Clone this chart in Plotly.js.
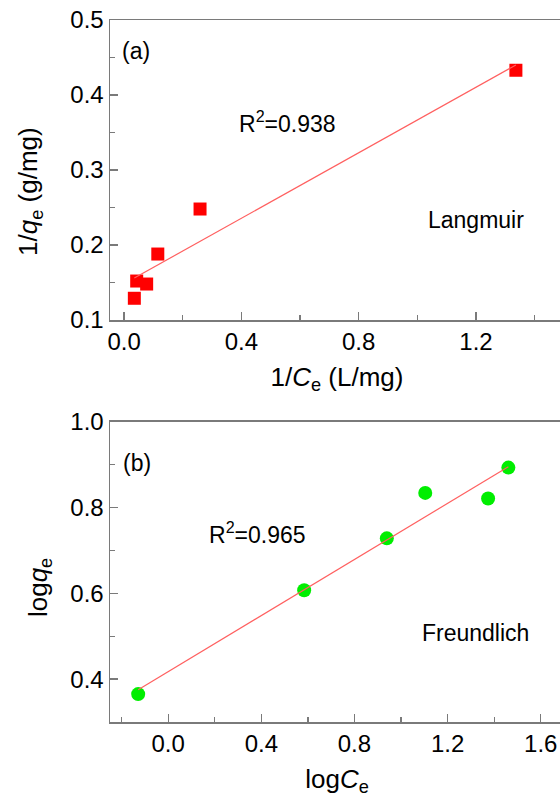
<!DOCTYPE html>
<html>
<head>
<meta charset="utf-8">
<script src="https://cdn.plot.ly/plotly-3.0.1.min.js"></script>
<style>
html, body { margin: 0; padding: 0; overflow: hidden; background: #fff; }
#chart { width: 600px; height: 804px; }
</style>
</head>
<body>
<div id="chart"></div>
<script>
// Panel (a): Langmuir, 1/Ce vs 1/qe
const langX = [0.035, 0.043, 0.077, 0.115, 0.259, 1.336];
const langY = [0.129, 0.152, 0.148, 0.188, 0.248, 0.433];
const langFitX = [0.035, 1.336];
const langFitY = [0.156, 0.440];

// Panel (b): Freundlich, logCe vs logqe
const freuX = [-0.129, 0.584, 0.939, 1.104, 1.374, 1.461];
const freuY = [0.365, 0.607, 0.728, 0.834, 0.821, 0.893];
const freuFitX = [-0.129, 1.461];
const freuFitY = [0.375, 0.895];

const labels = {
  a: '(a)', b: '(b)',
  r2a: 'R<sup>2</sup>=0.938', r2b: 'R<sup>2</sup>=0.965',
  modelA: 'Langmuir', modelB: 'Freundlich',
  xA: '1/<i>C</i><sub>e</sub> (L/mg)', yA: '1/<i>q</i><sub>e</sub> (g/mg)',
  xB: 'log<i>C</i><sub>e</sub>', yB: 'log<i>q</i><sub>e</sub>'
};

const FONT = 'Arial, "Liberation Sans", sans-serif';
const axisCommon = {
  showline: true, linecolor: '#7a7a7a', linewidth: 1.5, mirror: true,
  ticks: 'inside', ticklen: 8, tickwidth: 1.3, tickcolor: '#7a7a7a',
  showgrid: false, zeroline: false,
  tickfont: {family: FONT, size: 24, color: '#000'},
  title: {font: {family: FONT, size: 26, color: '#000'}}
};

function ax(extra) {
  const o = JSON.parse(JSON.stringify(axisCommon));
  for (const k in extra) {
    if (k === 'title') o.title = Object.assign(o.title, extra.title);
    else o[k] = extra[k];
  }
  return o;
}

const traces = [
  {x: langX, y: langY, xaxis: 'x', yaxis: 'y', mode: 'markers', type: 'scatter',
   marker: {symbol: 'square', size: 13, color: '#ff0000'}},
  {x: langFitX, y: langFitY, xaxis: 'x', yaxis: 'y', mode: 'lines', type: 'scatter',
   line: {color: '#ff6060', width: 1.2}},
  {x: freuX, y: freuY, xaxis: 'x2', yaxis: 'y2', mode: 'markers', type: 'scatter',
   marker: {symbol: 'circle', size: 14, color: '#00ee00'}},
  {x: freuFitX, y: freuFitY, xaxis: 'x2', yaxis: 'y2', mode: 'lines', type: 'scatter',
   line: {color: '#ff6060', width: 1.2}}
];

const minorCommon = {ticks: 'inside', ticklen: 5, tickwidth: 1.3, tickcolor: '#7a7a7a', showgrid: false};
const annFont = {family: FONT, size: 23, color: '#000'};
function ann(xr, yr, x, y, text) {
  return {xref: xr, yref: yr, x: x, y: y, text: text, showarrow: false,
          xanchor: 'center', yanchor: 'middle', font: annFont};
}
function ytitle(yr, y, xshift, text) {
  return {xref: 'paper', yref: yr, x: 0, y: y, xshift: xshift, text: text, showarrow: false,
          textangle: -90, xanchor: 'center', yanchor: 'middle',
          font: {family: FONT, size: 26, color: '#000'}};
}

const layout = {
  width: 600, height: 804,
  margin: {l: 110, r: 36, t: 20, b: 82},
  paper_bgcolor: '#fff', plot_bgcolor: '#fff',
  showlegend: false,
  font: {family: FONT, color: '#000'},
  xaxis: ax({domain: [0, 1], anchor: 'y', range: [-0.048, 1.5], tick0: 0, dtick: 0.4,
    tickformat: '.1f', minor: Object.assign({dtick: 0.2}, minorCommon),
    title: {text: labels.xA, standoff: 13}}),
  yaxis: ax({domain: [0.5726, 1], anchor: 'x', range: [0.1, 0.5], tick0: 0.1, dtick: 0.1,
    tickformat: '.1f', minor: Object.assign({dtick: 0.05}, minorCommon)}),
  xaxis2: ax({domain: [0, 1], anchor: 'y2', range: [-0.25, 1.7], tick0: 0, dtick: 0.4,
    tickformat: '.1f', minor: Object.assign({dtick: 0.2}, minorCommon),
    title: {text: labels.xB, standoff: 13}}),
  yaxis2: ax({domain: [0, 0.4278], anchor: 'x2', range: [0.3, 1.0], tick0: 0.4, dtick: 0.2,
    tickformat: '.1f', minor: Object.assign({dtick: 0.1}, minorCommon)}),
  annotations: [
    ytitle('y domain', 0.427, -80, labels.yA),
    ytitle('y2 domain', 0.446, -71, labels.yB),
    ann('x domain', 'y domain', 0.057, 0.898, labels.a),
    ann('x domain', 'y domain', 0.392, 0.66, labels.r2a),
    ann('x domain', 'y domain', 0.806, 0.333, labels.modelA),
    ann('x2 domain', 'y2 domain', 0.0595, 0.861, labels.b),
    ann('x2 domain', 'y2 domain', 0.324, 0.629, labels.r2b),
    ann('x2 domain', 'y2 domain', 0.806, 0.295, labels.modelB)
  ]
};

Plotly.newPlot('chart', traces, layout, {displayModeBar: false, staticPlot: true});
</script>
</body>
</html>
